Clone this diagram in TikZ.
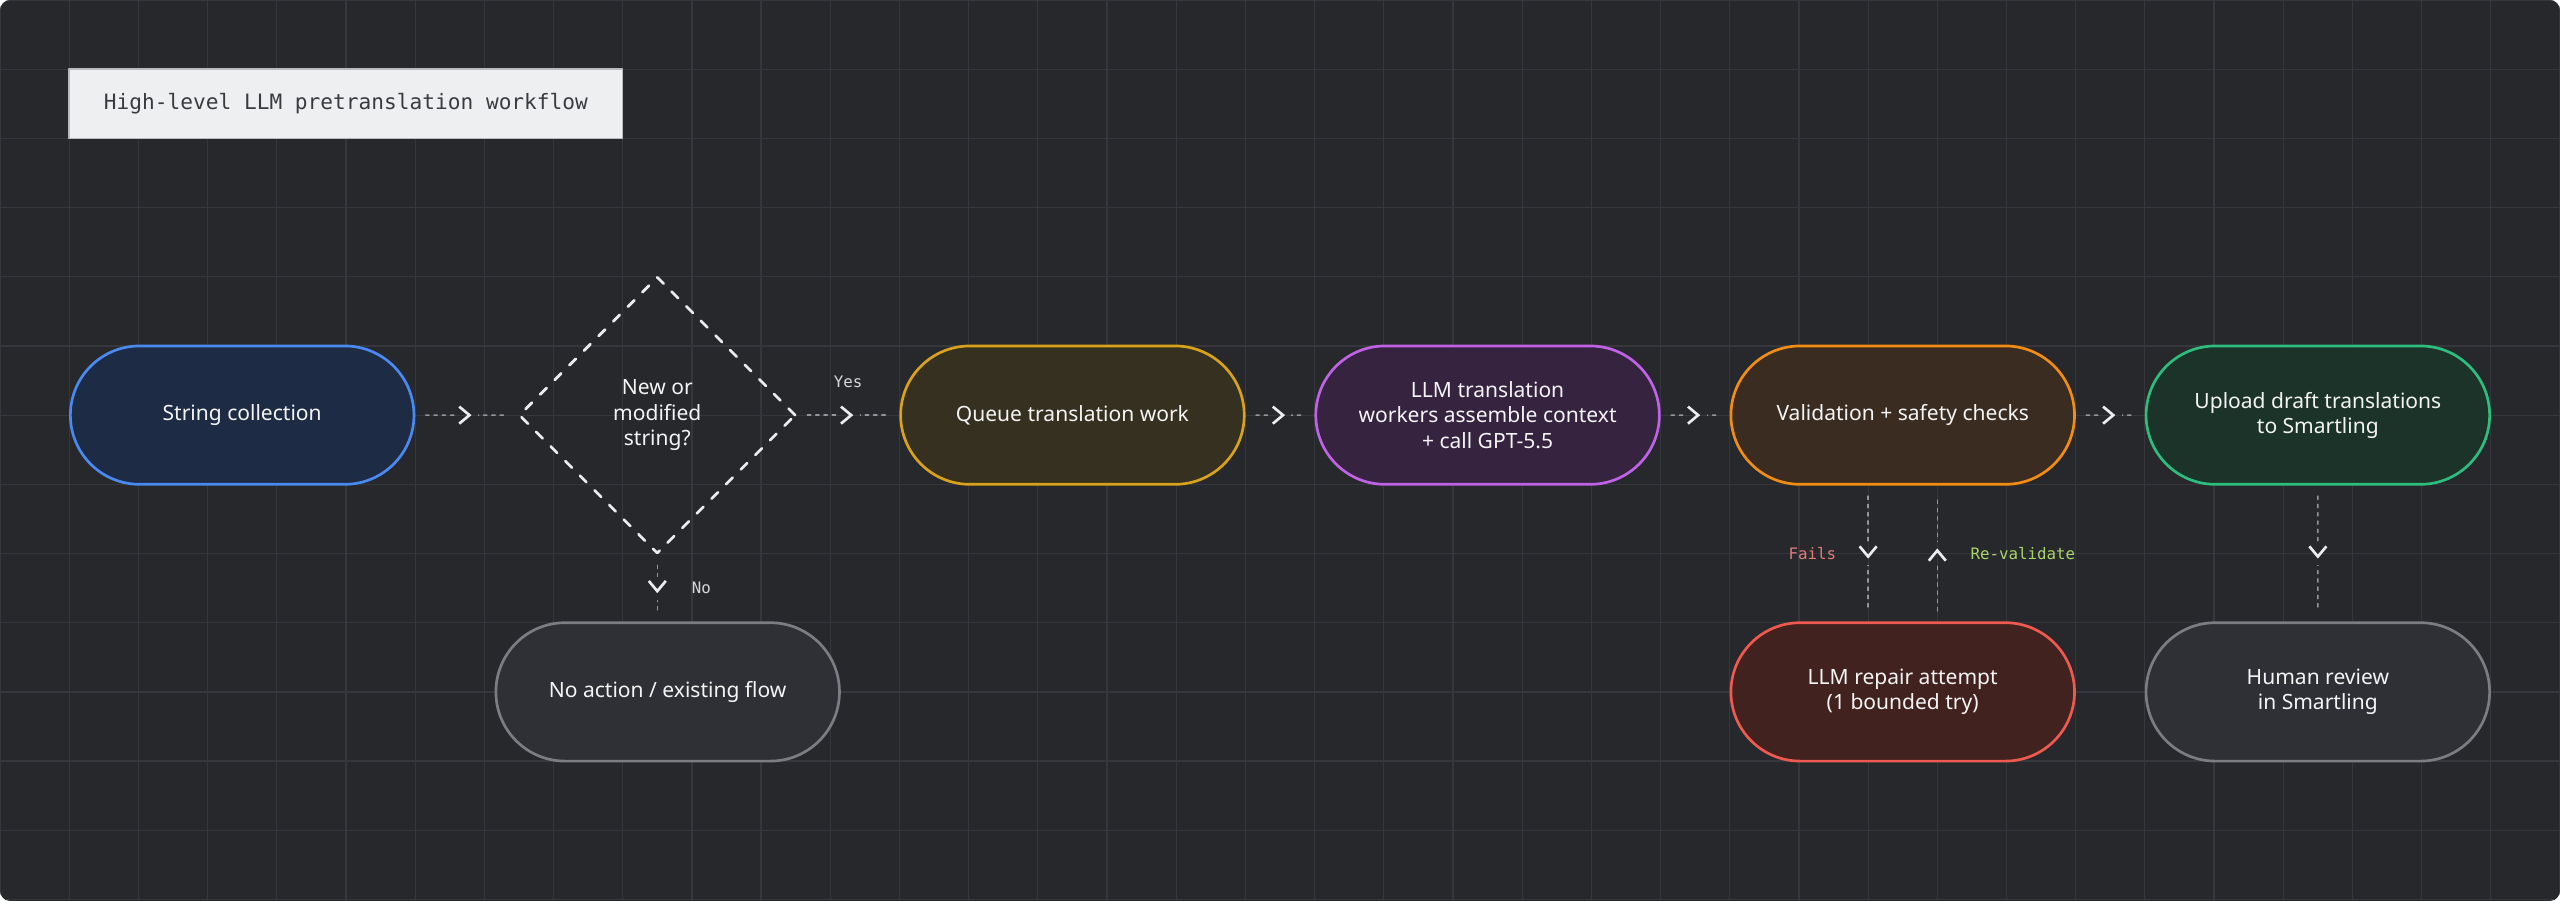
\documentclass[tikz,border=0pt]{standalone}
\usepackage{fontspec}
\setmainfont{Noto Sans}
\setmonofont{DejaVu Sans Mono}
\usetikzlibrary{arrows.meta}
\usetikzlibrary{shapes}
\usetikzlibrary{decorations.markings}

\definecolor{bgdark}{HTML}{27282C}
\definecolor{gridcol}{HTML}{36373C}
\definecolor{dashcol}{HTML}{94969C}
\definecolor{chevcol}{HTML}{ECECEE}
\definecolor{nodetext}{HTML}{F4F4F5}
\definecolor{lbltext}{HTML}{D6D7DA}
\definecolor{titlefill}{HTML}{EEEFF1}
\definecolor{titledraw}{HTML}{B9BABD}
\definecolor{titletext}{HTML}{3A3B40}
\definecolor{stringfill}{HTML}{1E2B45}
\definecolor{stringdraw}{HTML}{4A8AF0}
\definecolor{queuefill}{HTML}{35301F}
\definecolor{queuedraw}{HTML}{D9A21B}
\definecolor{llmfill}{HTML}{35233F}
\definecolor{llmdraw}{HTML}{C062E6}
\definecolor{validfill}{HTML}{3A2C21}
\definecolor{validdraw}{HTML}{F28C12}
\definecolor{uploadfill}{HTML}{1C3329}
\definecolor{uploaddraw}{HTML}{2DBE7E}
\definecolor{greyfill}{HTML}{2F3035}
\definecolor{greydraw}{HTML}{7C7D82}
\definecolor{repairfill}{HTML}{42221F}
\definecolor{repairdraw}{HTML}{EE5A4F}
\definecolor{failscol}{HTML}{E57B78}
\definecolor{revalcol}{HTML}{A9D46A}

\begin{document}
\begin{tikzpicture}[line cap=round, line join=round,
  stage/.style={rounded rectangle, minimum width=5.2cm, minimum height=2cm, line width=1.1pt,
    align=center, text=nodetext, font=\fontsize{8.65}{10.4}\selectfont},
  decision/.style={diamond, aspect=1, minimum width=4cm, minimum height=4cm, inner sep=0pt,
    draw=chevcol, line width=1.1pt, dash pattern=on 3.8pt off 4.7pt,
    align=center, text=nodetext, font=\fontsize{8.65}{10.4}\selectfont},
  titlebox/.style={rectangle, minimum width=8cm, minimum height=1cm, fill=titlefill,
    draw=titledraw, line width=0.6pt, text=titletext, font=\ttfamily\fontsize{8.7}{10}\selectfont},
  chevgap/.style={draw=bgdark, double=gridcol, double distance=0.5pt, line width=0.5pt,
    solid, line cap=butt, shorten <=0pt, shorten >=0pt},
  offgrid/.style={chevgap/.append style={double=bgdark}},
  flow/.style={draw=dashcol, line width=0.6pt, dash pattern=on 1.4pt off 2pt,
    shorten <=0.15cm, shorten >=0.15cm, postaction={decorate},
    decoration={markings, mark=at position 0.5 with
      {\draw[chevgap] (-4.7pt,0) -- (4.7pt,0);
       \arrow[chevcol, line width=1.1pt, xshift=2.1pt]{Straight Barb[length=4.2pt, width=7pt]}}}},
  lbl/.style={inner sep=0pt, text=lbltext, font=\ttfamily\fontsize{6.5}{8}\selectfont},
  gridline/.style={draw=gridcol, line width=0.5pt}]

% background + grid
\useasboundingbox (0,0) rectangle (37,-13.022);
\fill[white] (0,0) rectangle (37,-13.022);
\begin{scope}
\clip[rounded corners=0.15cm] (0,0) rectangle (37,-13.022);
\fill[bgdark] (0,0) rectangle (37,-13.022);
\draw[gridline] (0,-13.022) grid (37,0);
\end{scope}

\node[titlebox] (title) at (5,-1.5) {High-level LLM pretranslation workflow};

%---------------------------------------------------------------------------------------------------
% main row
\node[stage, fill=stringfill, draw=stringdraw] (string) at (3.5,-6) {String collection};
\node[decision] (dec) at (9.5,-6) {New or\\modified\\string?};
\node[stage, fill=queuefill, draw=queuedraw] (queue) at (15.5,-6) {Queue translation work};
\node[stage, fill=llmfill, draw=llmdraw] (llm) at (21.5,-6) {LLM translation\\workers assemble context\\+ call GPT-5.5};
\node[stage, fill=validfill, draw=validdraw] (valid) at (27.5,-6) {Validation + safety checks};
\node[stage, fill=uploadfill, draw=uploaddraw] (upload) at (33.5,-6) {Upload draft translations\\to Smartling};

% lower row
\node[stage, fill=greyfill, draw=greydraw] (noact) at (9.65,-10) {No action / existing flow};
\node[stage, fill=repairfill, draw=repairdraw] (repair) at (27.5,-10) {LLM repair attempt\\(1 bounded try)};
\node[stage, fill=greyfill, draw=greydraw] (human) at (33.5,-10) {Human review\\in Smartling};

%---------------------------------------------------------------------------------------------------
% connectors
\draw[flow] (string) -- (dec);
\draw[flow] (dec) -- (queue) node[midway, lbl, yshift=0.48cm] {Yes};
\draw[flow, offgrid] (dec.south) -- (dec.south |- noact.north) node[midway, lbl, right=0.49cm] {No};
\draw[flow] (queue) -- (llm);
\draw[flow] (llm) -- (valid);
\draw[flow] (valid) -- (upload);
\draw[flow] ([xshift=-0.5cm]valid.south) -- ([xshift=-0.5cm]repair.north)
  node[midway, lbl, text=failscol, left=0.45cm] {Fails};
\draw[flow] ([xshift=0.5cm]repair.north) -- ([xshift=0.5cm]valid.south)
  node[midway, lbl, text=revalcol, right=0.47cm] {Re-validate};
\draw[flow, offgrid] (upload) -- (human);

\end{tikzpicture}
\end{document}
